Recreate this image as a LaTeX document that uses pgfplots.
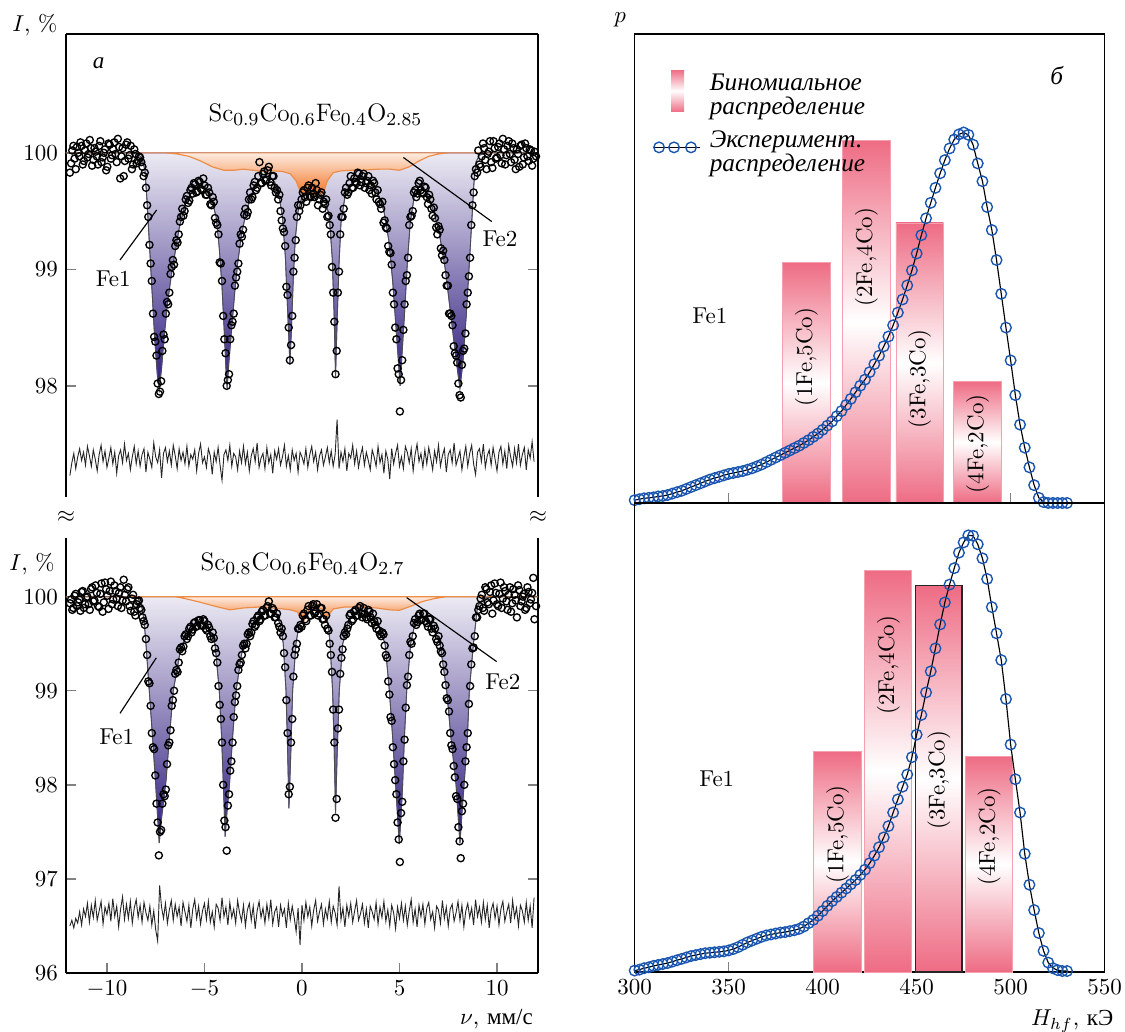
\documentclass[border=0pt]{standalone}
\usepackage{fontspec}
\newfontfamily\cyr{Liberation Serif}
\usepackage{pgfplots}
\pgfplotsset{compat=1.18}
\definecolor{indig}{RGB}{45,25,125}
\definecolor{indigline}{RGB}{95,85,170}
\definecolor{orng}{RGB}{242,118,38}
\definecolor{orngline}{RGB}{236,140,70}
\definecolor{pinkbar}{RGB}{238,108,132}
\definecolor{pinkedge}{RGB}{244,160,175}
\definecolor{circblue}{RGB}{25,85,175}
\pgfplotsset{
  datamarks/.style={only marks, mark=o, mark size=1.55pt, mark options={black, line width=0.58pt}},
  bluefill/.style={draw=indigline, line width=0.4pt, top color=indig!9, bottom color=indig},
  orangefill/.style={draw=orngline, line width=0.5pt, top color=orng!14, bottom color=orng},
  fitline/.style={gray!60!black, line width=0.35pt},
  resid/.style={black!85, line width=0.4pt},
  bar/.style={draw=pinkedge, line width=0.4pt, top color=pinkbar, bottom color=pinkbar, middle color=white}
}
\begin{document}
\begin{tikzpicture}
\path[use as bounding box] (0,0) rectangle (489.4pt,-448.9pt);
% ================= top-left =================
\begin{axis}[
 at={(28.71pt,-14.79pt)}, anchor=north west, scale only axis,
 width=205.32pt, height=201.41pt,
 xmin=-12.1, xmax=12.1, ymin=97.046, ymax=101.02,
 axis x line=top, axis y line=box, axis line style={-, line width=0.6pt},
 xtick=\empty, ytick={98,99,100}, tick align=inside, clip=false,
 major tick style={line width=0.6pt}]
\addplot[bluefill] coordinates {
(-12.1,100) (-9.0,100) (-8.4,99.99) (-8.2,99.95) (-8.05,99.85) (-7.95,99.6) (-7.85,99.3) (-7.7,98.85) (-7.55,98.4) (-7.42,98.1) (-7.32,97.97) (-7.2,98.15) (-7.05,98.45) (-6.9,98.7) (-6.7,98.95) (-6.5,99.15) (-6.3,99.35) (-6.0,99.55) (-5.6,99.68) (-5.2,99.72) (-4.9,99.68) (-4.6,99.58) (-4.4,99.45) (-4.25,99.2) (-4.1,98.85) (-3.98,98.45) (-3.9,98.15) (-3.84,97.98) (-3.75,98.2) (-3.6,98.5) (-3.45,98.8) (-3.3,99.05) (-3.1,99.3) (-2.85,99.5) (-2.5,99.68) (-2.1,99.79) (-1.7,99.8) (-1.4,99.75) (-1.15,99.6) (-1.0,99.45) (-0.85,99.1) (-0.75,98.7) (-0.66,98.35) (-0.62,98.18) (-0.55,98.45) (-0.45,98.9) (-0.35,99.25) (-0.2,99.5) (0.0,99.62) (0.3,99.66) (0.6,99.67) (0.9,99.66) (1.2,99.6) (1.4,99.45) (1.55,99.1) (1.65,98.6) (1.72,98.08) (1.8,98.55) (1.9,99.05) (2.0,99.4) (2.2,99.62) (2.6,99.75) (3.0,99.79) (3.5,99.76) (3.9,99.65) (4.2,99.5) (4.45,99.25) (4.65,98.9) (4.8,98.55) (4.95,98.2) (5.03,98.0) (5.12,98.25) (5.25,98.6) (5.4,99.05) (5.55,99.4) (5.75,99.62) (6.05,99.72) (6.4,99.65) (6.75,99.5) (7.05,99.3) (7.35,99.0) (7.6,98.65) (7.85,98.3) (8.0,98.1) (8.1,97.98) (8.25,98.2) (8.42,98.6) (8.58,99.05) (8.72,99.45) (8.82,99.75) (8.92,99.92) (9.1,99.98) (9.5,100) (12.1,100)} -- cycle;
\addplot[orangefill] coordinates {
(-12.1,100) (-7,100) (-6.4,99.99) (-5.8,99.97) (-5.2,99.93) (-4.6,99.88) (-4.0,99.85) (-3.5,99.85) (-3.0,99.86) (-2.5,99.85) (-2.0,99.84) (-1.5,99.845) (-1.0,99.84) (-0.6,99.82) (-0.3,99.76) (-0.1,99.67) (0.1,99.64) (0.5,99.645) (0.9,99.64) (1.1,99.66) (1.3,99.76) (1.6,99.83) (2.0,99.845) (2.5,99.85) (3.0,99.85) (3.5,99.855) (4.0,99.86) (4.5,99.86) (5.0,99.85) (5.5,99.88) (6.0,99.93) (6.5,99.97) (7.0,99.99) (7.5,100) (12.1,100)} -- cycle;
\addplot[fitline] coordinates {
(-12.1,100) (-9.0,100) (-8.4,99.99) (-8.2,99.95) (-8.05,99.85) (-7.95,99.6) (-7.85,99.3) (-7.7,98.85) (-7.55,98.4) (-7.42,98.1) (-7.32,97.97) (-7.2,98.15) (-7.05,98.45) (-6.9,98.7) (-6.7,98.95) (-6.5,99.15) (-6.3,99.35) (-6.0,99.55) (-5.6,99.68) (-5.2,99.72) (-4.9,99.68) (-4.6,99.58) (-4.4,99.45) (-4.25,99.2) (-4.1,98.85) (-3.98,98.45) (-3.9,98.15) (-3.84,97.98) (-3.75,98.2) (-3.6,98.5) (-3.45,98.8) (-3.3,99.05) (-3.1,99.3) (-2.85,99.5) (-2.5,99.68) (-2.1,99.79) (-1.7,99.8) (-1.4,99.75) (-1.15,99.6) (-1.0,99.45) (-0.85,99.1) (-0.75,98.7) (-0.66,98.35) (-0.62,98.18) (-0.55,98.45) (-0.45,98.9) (-0.35,99.25) (-0.2,99.5) (0.0,99.62) (0.3,99.66) (0.6,99.67) (0.9,99.66) (1.2,99.6) (1.4,99.45) (1.55,99.1) (1.65,98.6) (1.72,98.08) (1.8,98.55) (1.9,99.05) (2.0,99.4) (2.2,99.62) (2.6,99.75) (3.0,99.79) (3.5,99.76) (3.9,99.65) (4.2,99.5) (4.45,99.25) (4.65,98.9) (4.8,98.55) (4.95,98.2) (5.03,98.0) (5.12,98.25) (5.25,98.6) (5.4,99.05) (5.55,99.4) (5.75,99.62) (6.05,99.72) (6.4,99.65) (6.75,99.5) (7.05,99.3) (7.35,99.0) (7.6,98.65) (7.85,98.3) (8.0,98.1) (8.1,97.98) (8.25,98.2) (8.42,98.6) (8.58,99.05) (8.72,99.45) (8.82,99.75) (8.92,99.92) (9.1,99.98) (9.5,100) (12.1,100)};
\addplot[resid] coordinates {
(-11.9,97.23) (-11.8,97.34) (-11.7,97.42) (-11.6,97.29) (-11.5,97.39) (-11.4,97.46) (-11.3,97.36) (-11.2,97.43) (-11.1,97.32) (-11.0,97.48)
(-10.9,97.40) (-10.8,97.31) (-10.7,97.45) (-10.6,97.37) (-10.5,97.27) (-10.4,97.41) (-10.3,97.49) (-10.2,97.35) (-10.1,97.44) (-10.0,97.30)
(-9.9,97.38) (-9.8,97.47) (-9.7,97.33) (-9.6,97.43) (-9.5,97.25) (-9.4,97.40) (-9.3,97.45) (-9.2,97.34) (-9.1,97.50) (-9.0,97.36)
(-8.9,97.42) (-8.8,97.28) (-8.7,97.39) (-8.6,97.48) (-8.5,97.33) (-8.4,97.44) (-8.3,97.31) (-8.2,97.41) (-8.1,97.46) (-8.0,97.26)
(-7.9,97.43) (-7.8,97.37) (-7.7,97.30) (-7.6,97.51) (-7.5,97.39) (-7.4,97.34) (-7.3,97.45) (-7.2,97.21) (-7.1,97.42) (-7.0,97.47)
(-6.9,97.35) (-6.8,97.44) (-6.7,97.32) (-6.6,97.49) (-6.5,97.40) (-6.4,97.29) (-6.3,97.46) (-6.2,97.36) (-6.1,97.43) (-6.0,97.33)
(-5.9,97.48) (-5.8,97.31) (-5.7,97.41) (-5.6,97.37) (-5.5,97.45) (-5.4,97.27) (-5.3,97.42) (-5.2,97.50) (-5.1,97.34) (-5.0,97.39)
(-4.9,97.30) (-4.8,97.46) (-4.7,97.40) (-4.6,97.24) (-4.5,97.43) (-4.4,97.35) (-4.3,97.47) (-4.2,97.32) (-4.1,97.19) (-4.0,97.41)
(-3.9,97.45) (-3.8,97.36) (-3.7,97.49) (-3.6,97.31) (-3.5,97.42) (-3.4,97.39) (-3.3,97.28) (-3.2,97.44) (-3.1,97.34) (-3.0,97.48)
(-2.9,97.33) (-2.8,97.43) (-2.7,97.27) (-2.6,97.40) (-2.5,97.46) (-2.4,97.35) (-2.3,97.51) (-2.2,97.30) (-2.1,97.38) (-2.0,97.42)
(-1.9,97.29) (-1.8,97.47) (-1.7,97.34) (-1.6,97.41) (-1.5,97.25) (-1.4,97.44) (-1.3,97.37) (-1.2,97.46) (-1.1,97.32) (-1.0,97.39)
(-0.9,97.49) (-0.8,97.31) (-0.7,97.40) (-0.6,97.28) (-0.5,97.45) (-0.4,97.36) (-0.3,97.42) (-0.2,97.26) (-0.1,97.43) (0.0,97.39)
(0.1,97.33) (0.2,97.46) (0.3,97.30) (0.4,97.41) (0.5,97.48) (0.6,97.35) (0.7,97.43) (0.8,97.28) (0.9,97.40) (1.0,97.45)
(1.1,97.32) (1.2,97.39) (1.3,97.47) (1.4,97.34) (1.5,97.44) (1.6,97.31) (1.7,97.41) (1.8,97.71) (1.9,97.29) (2.0,97.43)
(2.1,97.35) (2.2,97.46) (2.3,97.27) (2.4,97.42) (2.5,97.38) (2.6,97.49) (2.7,97.33) (2.8,97.44) (2.9,97.30) (3.0,97.40)
(3.1,97.47) (3.2,97.32) (3.3,97.43) (3.4,97.36) (3.5,97.28) (3.6,97.45) (3.7,97.39) (3.8,97.31) (3.9,97.48) (4.0,97.34)
(4.1,97.41) (4.2,97.25) (4.3,97.44) (4.4,97.37) (4.5,97.20) (4.6,97.46) (4.7,97.33) (4.8,97.42) (4.9,97.49) (5.0,97.31)
(5.1,97.39) (5.2,97.29) (5.3,97.48) (5.4,97.43) (5.5,97.34) (5.6,97.46) (5.7,97.27) (5.8,97.41) (5.9,97.50) (6.0,97.35)
(6.1,97.42) (6.2,97.30) (6.3,97.45) (6.4,97.33) (6.5,97.47) (6.6,97.38) (6.7,97.28) (6.8,97.44) (6.9,97.35) (7.0,97.49)
(7.1,97.31) (7.2,97.40) (7.3,97.46) (7.4,97.26) (7.5,97.41) (7.6,97.45) (7.7,97.34) (7.8,97.51) (7.9,97.32) (8.0,97.38)
(8.1,97.44) (8.2,97.28) (8.3,97.39) (8.4,97.48) (8.5,97.31) (8.6,97.42) (8.7,97.49) (8.8,97.33) (8.9,97.24) (9.0,97.43)
(9.1,97.46) (9.2,97.35) (9.3,97.50) (9.4,97.30) (9.5,97.40) (9.6,97.45) (9.7,97.32) (9.8,97.47) (9.9,97.37) (10.0,97.27)
(10.1,97.43) (10.2,97.48) (10.3,97.33) (10.4,97.44) (10.5,97.29) (10.6,97.49) (10.7,97.39) (10.8,97.31) (10.9,97.46) (11.0,97.34)
(11.1,97.50) (11.2,97.32) (11.3,97.41) (11.4,97.47) (11.5,97.28) (11.6,97.45) (11.7,97.38) (11.8,97.52) (11.9,97.35)};
\draw[line width=0.5pt] (axis cs:-9.33,99.08) -- (axis cs:-7.45,99.51);
\draw[line width=0.5pt] (axis cs:5.2,99.96) -- (axis cs:9.73,99.41);
\addplot[datamarks] coordinates {
(-11.90,99.83) (-11.78,100.02) (-11.66,99.95) (-11.54,100.05) (-11.42,99.97) (-11.30,100.06) (-11.18,99.93) (-11.06,100.08) (-10.94,99.99) (-10.82,100.04) (-10.70,99.94) (-10.58,100.01) (-10.46,99.90) (-10.34,100.10) (-10.22,99.96) (-10.10,100.03) (-9.98,99.88) (-9.86,100.07) (-9.74,99.98) (-9.62,100.09) (-9.50,99.92) (-9.38,100.05) (-9.26,99.97) (-9.14,99.80) (-9.02,100.07) (-8.90,99.95) (-8.78,100.06) (-8.66,99.90) (-8.54,99.99) (-8.42,99.93) (-8.30,99.96) (-8.18,99.88) (-8.06,99.83) (-7.94,99.55) (-7.82,99.21) (-7.70,98.90) (-7.58,98.42) (-7.46,98.26) (-7.34,97.93) (-7.22,98.04) (-7.10,98.44) (-6.98,98.62) (-6.86,98.70) (-6.74,98.96) (-6.62,99.08) (-6.50,99.20) (-6.38,99.23) (-6.26,99.41) (-6.14,99.52) (-6.02,99.50) (-5.90,99.63) (-5.78,99.59) (-5.66,99.70) (-5.54,99.74) (-5.42,99.66) (-5.30,99.76) (-5.18,99.69) (-5.06,99.78) (-4.94,99.64) (-4.82,99.70) (-4.70,99.56) (-4.58,99.62) (-4.46,99.44) (-4.34,99.38) (-4.22,99.06) (-4.10,98.90) (-3.98,98.40) (-3.86,98.00) (-3.74,98.10) (-3.62,98.52) (-3.50,98.62) (-3.38,98.93) (-3.26,99.05) (-3.14,99.30) (-3.02,99.34) (-2.90,99.52) (-2.78,99.49) (-2.66,99.66) (-2.54,99.62) (-2.42,99.75) (-2.30,99.70) (-2.18,99.92) (-2.06,99.74) (-1.94,99.84) (-1.82,99.77) (-1.70,99.88) (-1.58,99.72) (-1.46,99.80) (-1.34,99.66) (-1.22,99.60) (-1.10,99.50) (-0.98,99.35) (-0.86,99.20) (-0.74,98.78) (-0.62,98.22) (-0.50,98.60) (-0.38,99.10) (-0.26,99.45) (-0.14,99.50) (-0.02,99.60) (0.10,99.68) (0.22,99.58) (0.34,99.72) (0.46,99.62) (0.58,99.65) (0.70,99.74) (0.82,99.55) (0.94,99.64) (1.06,99.52) (1.18,99.56) (1.30,99.45) (1.42,99.38) (1.54,99.02) (1.66,98.55) (1.78,98.30) (1.90,98.98) (2.02,99.45) (2.14,99.52) (2.26,99.70) (2.38,99.66) (2.50,99.80) (2.62,99.70) (2.74,99.75) (2.86,99.83) (2.98,99.72) (3.10,99.80) (3.22,99.70) (3.34,99.76) (3.46,99.68) (3.58,99.65) (3.70,99.74) (3.82,99.60) (3.94,99.58) (4.06,99.52) (4.18,99.40) (4.30,99.36) (4.42,99.20) (4.54,99.14) (4.66,98.80) (4.78,98.50) (4.90,98.15) (5.02,97.78) (5.14,98.22) (5.26,98.70) (5.38,98.95) (5.50,99.38) (5.62,99.46) (5.74,99.66) (5.86,99.62) (5.98,99.74) (6.10,99.68) (6.22,99.65) (6.34,99.70) (6.46,99.56) (6.58,99.60) (6.70,99.46) (6.82,99.44) (6.94,99.30) (7.06,99.34) (7.18,99.12) (7.30,99.08) (7.42,98.86) (7.54,98.62) (7.66,98.60) (7.78,98.34) (7.90,98.26) (8.02,98.02) (8.14,97.90) (8.26,98.30) (8.38,98.45) (8.50,98.80) (8.62,99.10) (8.74,99.55) (8.86,99.80) (8.98,99.83) (9.10,99.90) (9.22,99.97) (9.34,100.04) (9.46,99.86) (9.58,100.01) (9.70,99.92) (9.82,100.10) (9.94,99.95) (10.06,100.05) (10.18,99.98) (10.30,100.12) (10.42,99.90) (10.54,100.06) (10.66,99.99) (10.78,100.08) (10.90,99.94) (11.02,100.03) (11.14,99.88) (11.26,100.07) (11.38,99.96) (11.50,100.04) (11.62,99.93) (11.74,100.02) (11.86,99.95) (12.00,99.97)};
\addplot[datamarks] coordinates {
(-11.84,99.91) (-11.72,100.06) (-11.60,99.86) (-11.48,100.00) (-11.36,100.09) (-11.24,99.90) (-11.12,100.02) (-11.00,99.96) (-10.88,100.11) (-10.76,99.89) (-10.64,100.04) (-10.52,99.97) (-10.40,100.06) (-10.28,99.92) (-10.16,100.00) (-10.04,99.85) (-9.92,100.08) (-9.80,99.95) (-9.68,100.03) (-9.56,99.99) (-9.44,100.12) (-9.32,99.78) (-9.20,100.04) (-9.08,99.93) (-8.96,100.09) (-8.84,99.98) (-8.72,99.86) (-8.60,100.03) (-8.48,99.91) (-8.36,99.97) (-8.24,99.92) (-8.12,99.80) (-8.00,99.70) (-7.88,99.45) (-7.76,99.05) (-7.64,98.62) (-7.52,98.38) (-7.40,98.02) (-7.28,97.95) (-7.16,98.30) (-7.04,98.40) (-6.92,98.72) (-6.80,98.80) (-6.68,99.02) (-6.56,99.04) (-6.44,99.25) (-6.32,99.30) (-6.20,99.45) (-6.08,99.46) (-5.96,99.60) (-5.84,99.57) (-5.72,99.68) (-5.60,99.65) (-5.48,99.73) (-5.36,99.67) (-5.24,99.75) (-5.12,99.68) (-5.00,99.72) (-4.88,99.64) (-4.76,99.66) (-4.64,99.55) (-4.52,99.58) (-4.40,99.40) (-4.28,99.30) (-4.16,99.05) (-4.04,98.60) (-3.92,98.28) (-3.80,98.05) (-3.68,98.40) (-3.56,98.55) (-3.44,98.86) (-3.32,98.98) (-3.20,99.22) (-3.08,99.28) (-2.96,99.47) (-2.84,99.46) (-2.72,99.60) (-2.60,99.60) (-2.48,99.72) (-2.36,99.68) (-2.24,99.80) (-2.12,99.74) (-2.00,99.82) (-1.88,99.76) (-1.76,99.85) (-1.64,99.75) (-1.52,99.80) (-1.40,99.70) (-1.28,99.68) (-1.16,99.64) (-1.04,99.42) (-0.92,99.32) (-0.80,98.85) (-0.68,98.50) (-0.56,98.35) (-0.44,98.98) (-0.32,99.25) (-0.20,99.55) (-0.08,99.55) (0.04,99.66) (0.16,99.62) (0.28,99.70) (0.40,99.63) (0.52,99.70) (0.64,99.62) (0.76,99.68) (0.88,99.60) (1.00,99.66) (1.12,99.58) (1.24,99.60) (1.36,99.46) (1.48,99.30) (1.60,98.80) (1.72,98.10) (1.84,98.80) (1.96,99.30) (2.08,99.45) (2.20,99.66) (2.32,99.64) (2.44,99.74) (2.56,99.70) (2.68,99.78) (2.80,99.74) (2.92,99.82) (3.04,99.75) (3.16,99.82) (3.28,99.74) (3.40,99.80) (3.52,99.72) (3.64,99.76) (3.76,99.66) (3.88,99.68) (4.00,99.56) (4.12,99.58) (4.24,99.42) (4.36,99.35) (4.48,99.15) (4.60,99.04) (4.72,98.70) (4.84,98.40) (4.96,98.10) (5.08,98.05) (5.20,98.48) (5.32,98.90) (5.44,99.10) (5.56,99.45) (5.68,99.50) (5.80,99.68) (5.92,99.65) (6.04,99.76) (6.16,99.66) (6.28,99.71) (6.40,99.62) (6.52,99.64) (6.64,99.52) (6.76,99.53) (6.88,99.36) (7.00,99.37) (7.12,99.18) (7.24,99.16) (7.36,98.95) (7.48,98.86) (7.60,98.62) (7.72,98.52) (7.84,98.28) (7.96,98.20) (8.08,97.92) (8.20,98.18) (8.32,98.32) (8.44,98.70) (8.56,98.94) (8.68,99.38) (8.80,99.66) (8.92,99.86) (9.04,100.02) (9.16,99.88) (9.28,100.08) (9.40,99.94) (9.52,99.99) (9.64,100.10) (9.76,99.87) (9.88,100.04) (10.00,99.96) (10.12,100.08) (10.24,99.91) (10.36,100.03) (10.48,99.98) (10.60,100.10) (10.72,99.92) (10.84,100.04) (10.96,99.86) (11.08,99.99) (11.20,100.06) (11.32,99.90) (11.44,100.08) (11.56,99.97) (11.68,100.03) (11.80,99.89) (11.92,100.01)};
\node[font=\cyr\itshape] at (axis cs:-10.43,100.77) {а};
\node[font=\fontsize{11}{13}\selectfont] at (axis cs:0.69,100.33) {Sc$_{0.9}$Co$_{0.6}$Fe$_{0.4}$O$_{2.85}$};
\node at (axis cs:-9.68,98.92) {Fe1};
\node at (axis cs:10.15,99.26) {Fe2};
\node at (rel axis cs:-0.066,1.019) {$I$, \%};
\end{axis}
% ================= bottom-left =================
\begin{axis}[
 at={(28.71pt,-234.03pt)}, anchor=north west, scale only axis,
 width=205.32pt, height=189.23pt,
 xmin=-12.1, xmax=12.1, ymin=96, ymax=100.624,
 axis x line=bottom, axis y line=box, axis line style={-, line width=0.6pt},
 xtick={-10,-5,0,5,10}, ytick={96,97,98,99,100}, tick align=inside, clip=false,
 major tick style={line width=0.6pt}]
\addplot[bluefill] coordinates {
(-12.1,100) (-9,100) (-8.4,99.98) (-8.22,99.9) (-8.1,99.75) (-8.0,99.5) (-7.83,99.0) (-7.66,98.5) (-7.5,98.0) (-7.4,97.65) (-7.32,97.38) (-7.2,97.65) (-7.08,97.85) (-6.97,98.05) (-6.8,98.5) (-6.6,99.0) (-6.26,99.4) (-5.9,99.6) (-5.5,99.7) (-5.14,99.73) (-4.8,99.66) (-4.46,99.5) (-4.24,99.0) (-4.12,98.5) (-4.03,98.0) (-3.94,97.45) (-3.85,97.7) (-3.72,98.0) (-3.56,98.5) (-3.38,99.0) (-3.09,99.4) (-2.5,99.7) (-2.0,99.83) (-1.64,99.86) (-1.3,99.8) (-1.1,99.7) (-0.96,99.5) (-0.82,99.0) (-0.74,98.4) (-0.67,97.75) (-0.58,98.3) (-0.48,99.0) (-0.31,99.5) (-0.15,99.7) (0.07,99.76) (0.35,99.84) (0.67,99.87) (1.0,99.84) (1.23,99.77) (1.35,99.7) (1.44,99.5) (1.57,99.0) (1.65,98.4) (1.72,97.7) (1.8,98.3) (1.91,99.0) (2.09,99.5) (2.4,99.75) (2.97,99.86) (3.5,99.82) (3.9,99.7) (4.26,99.5) (4.48,99.0) (4.65,98.5) (4.8,98.0) (4.99,97.37) (5.1,97.75) (5.16,98.0) (5.25,98.5) (5.37,99.0) (5.57,99.5) (5.8,99.72) (6.14,99.8) (6.6,99.72) (7.08,99.5) (7.42,99.0) (7.64,98.5) (7.9,98.0) (8.1,97.38) (8.22,97.75) (8.31,98.0) (8.48,98.5) (8.58,99.0) (8.79,99.5) (9.0,99.9) (9.3,99.98) (9.8,100) (12.1,100)} -- cycle;
\addplot[orangefill] coordinates {
(-12.1,100) (-6.5,100) (-6,99.98) (-5.2,99.94) (-4.5,99.9) (-3.7,99.86) (-3.0,99.88) (-2.2,99.89) (-1.6,99.88) (-1.0,99.87) (-0.6,99.86) (-0.25,99.84) (-0.05,99.78) (0.07,99.73) (0.2,99.79) (0.4,99.87) (0.7,99.89) (1.0,99.87) (1.13,99.79) (1.23,99.73) (1.35,99.8) (1.6,99.87) (2.2,99.89) (3.0,99.89) (3.8,99.88) (4.5,99.86) (5.0,99.855) (5.6,99.9) (6.2,99.95) (6.8,99.98) (7.4,100) (12.1,100)} -- cycle;
\addplot[fitline] coordinates {
(-12.1,100) (-9,100) (-8.4,99.98) (-8.22,99.9) (-8.1,99.75) (-8.0,99.5) (-7.83,99.0) (-7.66,98.5) (-7.5,98.0) (-7.4,97.65) (-7.32,97.38) (-7.2,97.65) (-7.08,97.85) (-6.97,98.05) (-6.8,98.5) (-6.6,99.0) (-6.26,99.4) (-5.9,99.6) (-5.5,99.7) (-5.14,99.73) (-4.8,99.66) (-4.46,99.5) (-4.24,99.0) (-4.12,98.5) (-4.03,98.0) (-3.94,97.45) (-3.85,97.7) (-3.72,98.0) (-3.56,98.5) (-3.38,99.0) (-3.09,99.4) (-2.5,99.7) (-2.0,99.83) (-1.64,99.86) (-1.3,99.8) (-1.1,99.7) (-0.96,99.5) (-0.82,99.0) (-0.74,98.4) (-0.67,97.75) (-0.58,98.3) (-0.48,99.0) (-0.31,99.5) (-0.15,99.7) (0.07,99.76) (0.35,99.84) (0.67,99.87) (1.0,99.84) (1.23,99.77) (1.35,99.7) (1.44,99.5) (1.57,99.0) (1.65,98.4) (1.72,97.7) (1.8,98.3) (1.91,99.0) (2.09,99.5) (2.4,99.75) (2.97,99.86) (3.5,99.82) (3.9,99.7) (4.26,99.5) (4.48,99.0) (4.65,98.5) (4.8,98.0) (4.99,97.37) (5.1,97.75) (5.16,98.0) (5.25,98.5) (5.37,99.0) (5.57,99.5) (5.8,99.72) (6.14,99.8) (6.6,99.72) (7.08,99.5) (7.42,99.0) (7.64,98.5) (7.9,98.0) (8.1,97.38) (8.22,97.75) (8.31,98.0) (8.48,98.5) (8.58,99.0) (8.79,99.5) (9.0,99.9) (9.3,99.98) (9.8,100) (12.1,100)};
\addplot[resid] coordinates {
(-11.9,96.50) (-11.8,96.56) (-11.7,96.48) (-11.6,96.58) (-11.5,96.53) (-11.4,96.65) (-11.3,96.51) (-11.2,96.68) (-11.1,96.60) (-11.0,96.74)
(-10.9,96.54) (-10.8,96.72) (-10.7,96.59) (-10.6,96.77) (-10.5,96.56) (-10.4,96.66) (-10.3,96.76) (-10.2,96.52) (-10.1,96.70) (-10.0,96.62)
(-9.9,96.74) (-9.8,96.55) (-9.7,96.79) (-9.6,96.60) (-9.5,96.71) (-9.4,96.49) (-9.3,96.68) (-9.2,96.81) (-9.1,96.57) (-9.0,96.73)
(-8.9,96.58) (-8.8,96.76) (-8.7,96.53) (-8.6,96.69) (-8.5,96.78) (-8.4,96.59) (-8.3,96.72) (-8.2,96.54) (-8.1,96.75) (-8.0,96.64)
(-7.9,96.56) (-7.8,96.71) (-7.7,96.51) (-7.6,96.66) (-7.5,96.46) (-7.4,96.34) (-7.3,96.93) (-7.2,96.70) (-7.1,96.58) (-7.0,96.74)
(-6.9,96.53) (-6.8,96.67) (-6.7,96.77) (-6.6,96.56) (-6.5,96.73) (-6.4,96.60) (-6.3,96.70) (-6.2,96.50) (-6.1,96.75) (-6.0,96.65)
(-5.9,96.55) (-5.8,96.72) (-5.7,96.48) (-5.6,96.68) (-5.5,96.78) (-5.4,96.58) (-5.3,96.71) (-5.2,96.52) (-5.1,96.66) (-5.0,96.74)
(-4.9,96.57) (-4.8,96.76) (-4.7,96.54) (-4.6,96.65) (-4.5,96.49) (-4.4,96.73) (-4.3,96.69) (-4.2,96.56) (-4.1,96.80) (-4.0,96.60)
(-3.9,96.70) (-3.8,96.51) (-3.7,96.75) (-3.6,96.59) (-3.5,96.68) (-3.4,96.53) (-3.3,96.77) (-3.2,96.64) (-3.1,96.55) (-3.0,96.72)
(-2.9,96.50) (-2.8,96.67) (-2.7,96.74) (-2.6,96.56) (-2.5,96.71) (-2.4,96.47) (-2.3,96.66) (-2.2,96.76) (-2.1,96.59) (-2.0,96.69)
(-1.9,96.53) (-1.8,96.73) (-1.7,96.58) (-1.6,96.78) (-1.5,96.52) (-1.4,96.65) (-1.3,96.70) (-1.2,96.49) (-1.1,96.72) (-1.0,96.61)
(-0.9,96.68) (-0.8,96.48) (-0.7,96.74) (-0.6,96.57) (-0.5,96.71) (-0.4,96.59) (-0.3,96.44) (-0.2,96.69) (-0.1,96.30) (0.0,96.72)
(0.1,96.56) (0.2,96.75) (0.3,96.60) (0.4,96.70) (0.5,96.50) (0.6,96.67) (0.7,96.77) (0.8,96.55) (0.9,96.65) (1.0,96.73)
(1.1,96.52) (1.2,96.68) (1.3,96.58) (1.4,96.76) (1.5,96.54) (1.6,96.71) (1.7,96.64) (1.8,96.51) (1.9,96.92) (2.0,96.57)
(2.1,96.69) (2.2,96.49) (2.3,96.72) (2.4,96.60) (2.5,96.74) (2.6,96.54) (2.7,96.66) (2.8,96.77) (2.9,96.56) (3.0,96.63)
(3.1,96.73) (3.2,96.53) (3.3,96.68) (3.4,96.48) (3.5,96.71) (3.6,96.65) (3.7,96.57) (3.8,96.75) (3.9,96.52) (4.0,96.70)
(4.1,96.59) (4.2,96.76) (4.3,96.55) (4.4,96.67) (4.5,96.50) (4.6,96.72) (4.7,96.64) (4.8,96.47) (4.9,96.70) (5.0,96.58)
(5.1,96.74) (5.2,96.56) (5.3,96.71) (5.4,96.51) (5.5,96.66) (5.6,96.78) (5.7,96.54) (5.8,96.68) (5.9,96.49) (6.0,96.72)
(6.1,96.60) (6.2,96.73) (6.3,96.52) (6.4,96.69) (6.5,96.75) (6.6,96.57) (6.7,96.65) (6.8,96.48) (6.9,96.71) (7.0,96.67)
(7.1,96.53) (7.2,96.77) (7.3,96.58) (7.4,96.70) (7.5,96.50) (7.6,96.68) (7.7,96.73) (7.8,96.55) (7.9,96.64) (8.0,96.76)
(8.1,96.56) (8.2,96.72) (8.3,96.49) (8.4,96.66) (8.5,96.74) (8.6,96.59) (8.7,96.69) (8.8,96.51) (8.9,96.78) (9.0,96.60)
(9.1,96.70) (9.2,96.54) (9.3,96.75) (9.4,96.57) (9.5,96.72) (9.6,96.48) (9.7,96.67) (9.8,96.74) (9.9,96.58) (10.0,96.71)
(10.1,96.51) (10.2,96.68) (10.3,96.76) (10.4,96.55) (10.5,96.65) (10.6,96.73) (10.7,96.53) (10.8,96.77) (10.9,96.59) (11.0,96.69)
(11.1,96.50) (11.2,96.72) (11.3,96.66) (11.4,96.54) (11.5,96.75) (11.6,96.56) (11.7,96.71) (11.8,96.48) (11.9,96.80)};
\draw[line width=0.5pt] (axis cs:-9.33,98.76) -- (axis cs:-7.47,99.35);
\draw[line width=0.5pt] (axis cs:5.37,99.99) -- (axis cs:9.98,99.31);
\addplot[datamarks] coordinates {
(-11.90,99.93) (-11.78,99.86) (-11.66,100.01) (-11.54,99.90) (-11.42,99.97) (-11.30,100.05) (-11.18,99.88) (-11.06,99.99) (-10.94,99.92) (-10.82,100.08) (-10.70,99.95) (-10.58,100.12) (-10.46,99.90) (-10.34,100.03) (-10.22,99.84) (-10.10,100.15) (-9.98,100.01) (-9.86,100.06) (-9.74,99.92) (-9.62,100.12) (-9.50,99.98) (-9.38,100.04) (-9.26,99.88) (-9.14,100.18) (-9.02,99.95) (-8.90,100.10) (-8.78,99.85) (-8.66,100.02) (-8.54,99.80) (-8.42,99.95) (-8.30,99.88) (-8.18,99.78) (-8.06,99.70) (-7.94,99.38) (-7.82,99.08) (-7.70,98.55) (-7.58,98.38) (-7.46,97.80) (-7.34,97.25) (-7.22,97.52) (-7.10,97.90) (-6.98,97.95) (-6.86,98.42) (-6.74,98.58) (-6.62,98.90) (-6.50,99.18) (-6.38,99.20) (-6.26,99.44) (-6.14,99.42) (-6.02,99.58) (-5.90,99.55) (-5.78,99.66) (-5.66,99.62) (-5.54,99.72) (-5.42,99.68) (-5.30,99.75) (-5.18,99.70) (-5.06,99.76) (-4.94,99.66) (-4.82,99.70) (-4.70,99.58) (-4.58,99.62) (-4.46,99.45) (-4.34,99.30) (-4.22,98.85) (-4.10,98.45) (-3.98,97.62) (-3.86,97.30) (-3.74,97.90) (-3.62,98.25) (-3.50,98.72) (-3.38,98.95) (-3.26,99.22) (-3.14,99.30) (-3.02,99.48) (-2.90,99.45) (-2.78,99.60) (-2.66,99.58) (-2.54,99.71) (-2.42,99.68) (-2.30,99.78) (-2.18,99.74) (-2.06,99.84) (-1.94,99.80) (-1.82,99.88) (-1.70,99.95) (-1.58,99.82) (-1.46,99.86) (-1.34,99.78) (-1.22,99.72) (-1.10,99.62) (-0.98,99.58) (-0.86,99.25) (-0.74,98.55) (-0.62,97.98) (-0.50,98.70) (-0.38,99.38) (-0.26,99.50) (-0.14,99.66) (-0.02,99.68) (0.10,99.82) (0.22,99.74) (0.34,99.90) (0.46,99.80) (0.58,99.92) (0.70,99.84) (0.82,99.80) (0.94,99.88) (1.06,99.76) (1.18,99.70) (1.30,99.66) (1.42,99.50) (1.54,99.20) (1.66,98.45) (1.78,97.85) (1.90,98.80) (2.02,99.35) (2.14,99.58) (2.26,99.60) (2.38,99.70) (2.50,99.82) (2.62,99.76) (2.74,99.86) (2.86,99.80) (2.98,99.90) (3.10,99.78) (3.22,99.82) (3.34,99.76) (3.46,99.84) (3.58,99.72) (3.70,99.74) (3.82,99.66) (3.94,99.64) (4.06,99.58) (4.18,99.60) (4.30,99.38) (4.42,99.10) (4.54,98.72) (4.66,98.40) (4.78,98.05) (4.90,97.60) (5.02,97.18) (5.14,97.82) (5.26,98.48) (5.38,99.06) (5.50,99.38) (5.62,99.50) (5.74,99.72) (5.86,99.70) (5.98,99.80) (6.10,99.75) (6.22,99.82) (6.34,99.74) (6.46,99.68) (6.58,99.76) (6.70,99.62) (6.82,99.66) (6.94,99.52) (7.06,99.48) (7.18,99.40) (7.30,99.20) (7.42,98.92) (7.54,98.78) (7.66,98.42) (7.78,98.20) (7.90,97.88) (8.02,97.55) (8.14,97.22) (8.26,97.80) (8.38,98.25) (8.50,98.55) (8.62,99.05) (8.74,99.45) (8.86,99.58) (8.98,99.78) (9.10,99.90) (9.22,100.02) (9.34,99.85) (9.46,100.08) (9.58,99.92) (9.70,100.12) (9.82,99.96) (9.94,100.04) (10.06,99.90) (10.18,100.15) (10.30,99.98) (10.42,100.06) (10.54,99.86) (10.66,100.10) (10.78,99.93) (10.90,100.02) (11.02,99.78) (11.14,100.07) (11.26,99.95) (11.38,100.03) (11.50,99.88) (11.62,100.05) (11.74,99.97) (11.86,100.20) (12.00,99.90)};
\addplot[datamarks] coordinates {
(-11.84,99.97) (-11.72,99.88) (-11.60,100.03) (-11.48,99.94) (-11.36,99.85) (-11.24,100.06) (-11.12,99.92) (-11.00,100.00) (-10.88,99.86) (-10.76,100.10) (-10.64,99.96) (-10.52,100.04) (-10.40,99.89) (-10.28,100.14) (-10.16,99.94) (-10.04,100.08) (-9.92,99.87) (-9.80,100.16) (-9.68,99.97) (-9.56,100.06) (-9.44,99.90) (-9.32,100.10) (-9.20,99.96) (-9.08,100.02) (-8.96,100.08) (-8.84,99.90) (-8.72,99.98) (-8.60,99.84) (-8.48,99.92) (-8.36,99.96) (-8.24,99.86) (-8.12,99.74) (-8.00,99.55) (-7.88,99.10) (-7.76,98.84) (-7.64,98.40) (-7.52,98.10) (-7.40,97.60) (-7.28,97.50) (-7.16,97.80) (-7.04,97.88) (-6.92,98.22) (-6.80,98.45) (-6.68,98.84) (-6.56,99.00) (-6.44,99.22) (-6.32,99.30) (-6.20,99.46) (-6.08,99.47) (-5.96,99.60) (-5.84,99.58) (-5.72,99.68) (-5.60,99.65) (-5.48,99.73) (-5.36,99.69) (-5.24,99.75) (-5.12,99.69) (-5.00,99.74) (-4.88,99.64) (-4.76,99.67) (-4.64,99.55) (-4.52,99.56) (-4.40,99.40) (-4.28,99.05) (-4.16,98.70) (-4.04,98.00) (-3.92,97.55) (-3.80,97.78) (-3.68,98.15) (-3.56,98.45) (-3.44,98.88) (-3.32,99.05) (-3.20,99.28) (-3.08,99.38) (-2.96,99.50) (-2.84,99.50) (-2.72,99.62) (-2.60,99.62) (-2.48,99.74) (-2.36,99.70) (-2.24,99.80) (-2.12,99.76) (-2.00,99.86) (-1.88,99.80) (-1.76,99.90) (-1.64,99.82) (-1.52,99.88) (-1.40,99.78) (-1.28,99.82) (-1.16,99.68) (-1.04,99.66) (-0.92,99.40) (-0.80,98.90) (-0.68,97.90) (-0.56,98.45) (-0.44,99.15) (-0.32,99.44) (-0.20,99.66) (-0.08,99.70) (0.04,99.80) (0.16,99.76) (0.28,99.86) (0.40,99.80) (0.52,99.90) (0.64,99.82) (0.76,99.92) (0.88,99.82) (1.00,99.88) (1.12,99.76) (1.24,99.80) (1.36,99.64) (1.48,99.38) (1.60,98.80) (1.72,97.65) (1.84,98.60) (1.96,99.18) (2.08,99.44) (2.20,99.62) (2.32,99.66) (2.44,99.80) (2.56,99.74) (2.68,99.84) (2.80,99.80) (2.92,99.88) (3.04,99.82) (3.16,99.88) (3.28,99.78) (3.40,99.86) (3.52,99.78) (3.64,99.82) (3.76,99.70) (3.88,99.74) (4.00,99.60) (4.12,99.62) (4.24,99.48) (4.36,99.35) (4.48,98.96) (4.60,98.68) (4.72,98.22) (4.84,97.90) (4.96,97.42) (5.08,97.70) (5.20,98.25) (5.32,98.82) (5.44,99.15) (5.56,99.52) (5.68,99.58) (5.80,99.76) (5.92,99.73) (6.04,99.82) (6.16,99.76) (6.28,99.82) (6.40,99.72) (6.52,99.76) (6.64,99.66) (6.76,99.69) (6.88,99.55) (7.00,99.58) (7.12,99.42) (7.24,99.28) (7.36,99.06) (7.48,98.90) (7.60,98.55) (7.72,98.38) (7.84,98.08) (7.96,97.85) (8.08,97.40) (8.20,97.72) (8.32,98.00) (8.44,98.40) (8.56,98.86) (8.68,99.28) (8.80,99.46) (8.92,99.78) (9.04,99.86) (9.16,99.98) (9.28,99.88) (9.40,100.10) (9.52,99.94) (9.64,100.05) (9.76,99.82) (9.88,100.14) (10.00,99.92) (10.12,100.03) (10.24,99.88) (10.36,100.10) (10.48,99.95) (10.60,100.02) (10.72,99.84) (10.84,100.08) (10.96,99.96) (11.08,100.12) (11.20,99.90) (11.32,100.00) (11.44,99.86) (11.56,100.10) (11.68,99.93) (11.80,100.04) (11.92,99.76)};
\node[font=\fontsize{11}{13}\selectfont] at (axis cs:0.03,100.35) {Sc$_{0.8}$Co$_{0.6}$Fe$_{0.4}$O$_{2.7}$};
\node at (axis cs:-9.5,98.51) {Fe1};
\node at (axis cs:10.3,99.10) {Fe2};
\node at (rel axis cs:-0.072,0.941) {$I$, \%};
\node at (rel axis cs:0,1.049) {$\approx$};
\node at (rel axis cs:1,1.049) {$\approx$};
\node at (rel axis cs:0.912,-0.106) {$\nu$, {\cyr мм/с}};
\end{axis}
% ================= top-right =================
\begin{axis}[
 at={(276.09pt,-14.79pt)}, anchor=north west, scale only axis,
 width=204.45pt, height=204.02pt,
 xmin=300, xmax=550, ymin=0, ymax=1,
 axis line style={line width=0.6pt},
 xtick={300,350,400,450,500,550}, xticklabels={}, xtick pos=left, ytick=\empty,
 tick align=inside, clip=false, major tick style={line width=0.6pt},
 legend style={at={(rel axis cs:0.037,0.925)}, anchor=north west, draw=none, fill=none,
   inner sep=0pt, row sep=6pt, column sep=2pt, font=\fontsize{11}{12}\selectfont\cyr\itshape},
 legend cell align=left]
\addlegendimage{legend image code/.code={\path[draw=none,fill=none] (0pt,-9.1pt) rectangle (20.4pt,9.1pt);
  \shade[draw=none,top color=pinkbar,bottom color=pinkbar,middle color=white] (7.8pt,-9.1pt) rectangle (13.5pt,9.1pt);}}
\addlegendentry{\def\arraystretch{0.8}\begin{tabular}[c]{@{}l@{}}Биномиальное\\распределение\end{tabular}}
\addplot[forget plot, bar] coordinates {(378.7,0) (378.7,0.513) (403.9,0.513) (403.9,0)} -- cycle;
\addplot[forget plot, bar] coordinates {(410.6,0) (410.6,0.773) (436.0,0.773) (436.0,0)} -- cycle;
\addplot[forget plot, bar] coordinates {(439.0,0) (439.0,0.597) (464.2,0.597) (464.2,0)} -- cycle;
\addplot[forget plot, bar] coordinates {(469.5,0) (469.5,0.259) (495.2,0.259) (495.2,0)} -- cycle;
\node[rotate=90] at (axis cs:391.3,0.311) {(1Fe,5Co)};
\node[rotate=90] at (axis cs:423.3,0.524) {(2Fe,4Co)};
\node[rotate=90] at (axis cs:451.6,0.265) {(3Fe,3Co)};
\node[rotate=90] at (axis cs:482.4,0.126) {(4Fe,2Co)};
\addplot[black, line width=0.5pt, mark=o, mark size=2.3pt, mark options={draw=circblue, line width=0.6pt},
 legend image code/.code={\draw[mark indices={2,3,4}] plot coordinates {(0pt,0pt) (2.6pt,0pt) (9.1pt,0pt) (16.5pt,0pt) (20.4pt,0pt)};}] coordinates {
(300,0.006) (302.5,0.008) (305,0.010) (307.5,0.011) (310,0.012) (312.5,0.014) (315,0.015) (317.5,0.017) (320,0.020) (322.5,0.023) (325,0.026) (327.5,0.030) (330,0.034) (332.5,0.038) (335,0.042) (337.5,0.046) (340,0.050) (342.5,0.053) (345,0.056) (347.5,0.059) (350,0.062) (352.5,0.064) (355,0.066) (357.5,0.068) (360,0.071) (362.5,0.074) (365,0.078) (367.5,0.082) (370,0.087) (372.5,0.092) (375,0.097) (377.5,0.102) (380,0.107) (382.5,0.112) (385,0.117) (387.5,0.122) (390,0.128) (392.5,0.134) (395,0.141) (397.5,0.148) (400,0.156) (402.5,0.165) (405,0.174) (407.5,0.185) (410,0.196) (412.5,0.209) (415,0.222) (417.5,0.236) (420,0.250) (422.5,0.263) (425,0.279) (427.5,0.296) (430,0.314) (432.5,0.334) (435,0.355) (437.5,0.379) (440,0.406) (442.5,0.434) (445,0.464) (447.5,0.496) (450,0.532) (452.5,0.571) (455,0.607) (457.5,0.640) (460,0.672) (462.5,0.703) (465,0.731) (467.5,0.756) (470,0.775) (472.5,0.786) (475,0.790) (477.5,0.785) (480,0.764) (482.5,0.724) (485,0.686) (487.5,0.631) (490,0.582) (492.5,0.518) (495,0.446) (497.5,0.374) (500,0.304) (502.5,0.230) (505,0.167) (507.5,0.118) (510,0.076) (512.5,0.038) (515,0.011) (517.5,0.002) (520,0.0) (522.5,0.0) (525,0.0) (527.5,0.0) (530,0.0)};
\addlegendentry{\def\arraystretch{0.8}\begin{tabular}[c]{@{}l@{}}Эксперимент.\\распределение\end{tabular}}
\node at (rel axis cs:-0.031,1.03) {$p$};
\node[font=\fontsize{11}{13}\selectfont\cyr\itshape] at (axis cs:524.5,0.911) {б};
\node at (axis cs:340,0.40) {Fe1};
\end{axis}
% ================= bottom-right =================
\begin{axis}[
 at={(276.09pt,-218.81pt)}, anchor=north west, scale only axis,
 width=204.45pt, height=204.02pt,
 xmin=300, xmax=550, ymin=0, ymax=1,
 axis line style={line width=0.6pt},
 xtick={300,350,400,450,500,550}, xtick pos=left, ytick=\empty,
 tick align=inside, clip=false, major tick style={line width=0.6pt}]
\addplot[bar] coordinates {(395.3,0) (395.3,0.470) (420.6,0.470) (420.6,0)} -- cycle;
\addplot[bar] coordinates {(422.4,0) (422.4,0.857) (447.4,0.857) (447.4,0)} -- cycle;
\addplot[bar, draw=black!85, line width=0.6pt] coordinates {(449.5,0) (449.5,0.824) (474.1,0.824) (474.1,0)} -- cycle;
\addplot[bar] coordinates {(476.1,0) (476.1,0.459) (501.0,0.459) (501.0,0)} -- cycle;
\node[rotate=90] at (axis cs:408.0,0.293) {(1Fe,5Co)};
\node[rotate=90] at (axis cs:434.9,0.654) {(2Fe,4Co)};
\node[rotate=90] at (axis cs:461.8,0.409) {(3Fe,3Co)};
\node[rotate=90] at (axis cs:488.6,0.289) {(4Fe,2Co)};
\addplot[black, line width=0.5pt, mark=o, mark size=2.3pt, mark options={draw=circblue, line width=0.6pt}] coordinates {
(300,0.003) (302.5,0.005) (305,0.008) (307.5,0.010) (310,0.013) (312.5,0.015) (315,0.017) (317.5,0.019) (320,0.022) (322.5,0.025) (325,0.028) (327.5,0.031) (330,0.034) (332.5,0.036) (335,0.038) (337.5,0.040) (340,0.041) (342.5,0.042) (345,0.043) (347.5,0.044) (350,0.046) (352.5,0.049) (355,0.053) (357.5,0.058) (360,0.063) (362.5,0.067) (365,0.071) (367.5,0.075) (370,0.078) (372.5,0.080) (375,0.082) (377.5,0.084) (380,0.085) (382.5,0.087) (385,0.089) (387.5,0.092) (390,0.097) (392.5,0.104) (395,0.111) (397.5,0.120) (400,0.130) (402.5,0.141) (405,0.151) (407.5,0.160) (410,0.169) (412.5,0.178) (415,0.187) (417.5,0.196) (420,0.207) (422.5,0.218) (425,0.232) (427.5,0.248) (430,0.266) (432.5,0.287) (435,0.311) (437.5,0.340) (440,0.368) (442.5,0.395) (445,0.421) (447.5,0.458) (450,0.506) (452.5,0.548) (455,0.596) (457.5,0.641) (460,0.690) (462.5,0.741) (465,0.788) (467.5,0.826) (470,0.861) (472.5,0.894) (475,0.916) (477.5,0.931) (480,0.930) (482.5,0.912) (485,0.882) (487.5,0.838) (490,0.778) (492.5,0.722) (495,0.665) (497.5,0.582) (500,0.485) (502.5,0.411) (505,0.340) (507.5,0.252) (510,0.186) (512.5,0.132) (515,0.083) (517.5,0.045) (520,0.020) (522.5,0.008) (525,0.004) (527.5,0.002) (530,0.002)};
\node at (axis cs:343.7,0.412) {Fe1};
\node at (rel axis cs:0.931,-0.105) {$H_{hf}$, {\cyr кЭ}};
\end{axis}
\end{tikzpicture}
\end{document}
